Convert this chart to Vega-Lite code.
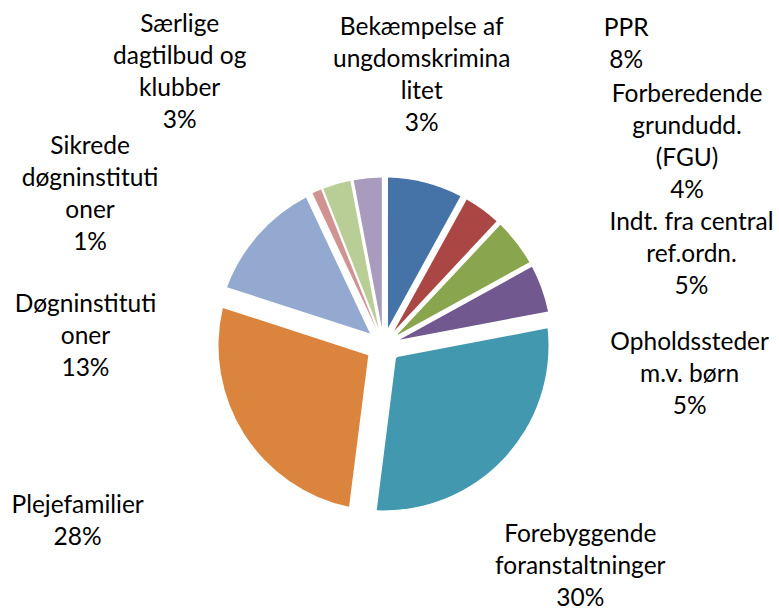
{
  "$schema": "https://vega.github.io/schema/vega-lite/v6.json",
  "width": 767,
  "height": 533,
  "padding": {"left": 0, "top": 79, "right": 12, "bottom": 0},
  "autosize": {"type": "none"},
  "background": "white",
  "config": {"view": {"stroke": null}},
  "data": {
    "values": [
      {"order": 1, "category": "PPR", "value": 8, "label": "PPR\n8%"},
      {"order": 2, "category": "Forberedende grundudd. (FGU)", "value": 4, "label": "Forberedende\ngrundudd.\n(FGU)\n4%"},
      {"order": 3, "category": "Indt. fra central ref.ordn.", "value": 5, "label": "Indt. fra central\nref.ordn.\n5%"},
      {"order": 4, "category": "Opholdssteder m.v. børn", "value": 5, "label": "Opholdssteder\nm.v. børn\n5%"},
      {"order": 5, "category": "Forebyggende foranstaltninger", "value": 30, "label": "Forebyggende\nforanstaltninger\n30%"},
      {"order": 6, "category": "Plejefamilier", "value": 28, "label": "Plejefamilier\n28%"},
      {"order": 7, "category": "Døgninstitutioner", "value": 13, "label": "Døgninstituti\noner\n13%"},
      {"order": 8, "category": "Sikrede døgninstitutioner", "value": 1, "label": "Sikrede\ndøgninstituti\noner\n1%"},
      {"order": 9, "category": "Særlige dagtilbud og klubber", "value": 3, "label": "Særlige\ndagtilbud og\nklubber\n3%"},
      {"order": 10, "category": "Bekæmpelse af ungdomskriminalitet", "value": 3, "label": "Bekæmpelse af\nungdomskrimina\nlitet\n3%"}
    ]
  },
  "transform": [
    {"stack": "value", "groupby": [], "sort": [{"field": "order", "order": "ascending"}], "as": ["v0", "v1"]}
  ],
  "layer": [
    {
      "encoding": {
        "theta": {"field": "v0", "type": "quantitative", "stack": null, "scale": {"domain": [0, 100]}},
        "theta2": {"field": "v1"},
        "color": {
          "field": "category",
          "type": "nominal",
          "legend": null,
          "scale": {
            "domain": ["PPR", "Forberedende grundudd. (FGU)", "Indt. fra central ref.ordn.", "Opholdssteder m.v. børn", "Forebyggende foranstaltninger", "Plejefamilier", "Døgninstitutioner", "Sikrede døgninstitutioner", "Særlige dagtilbud og klubber", "Bekæmpelse af ungdomskriminalitet"],
            "range": ["#4572A7", "#AA4643", "#89A54E", "#71588F", "#4198AF", "#DB843D", "#93A9CF", "#D19392", "#B9CD96", "#A99BBD"]
          }
        }
      },
      "layer": [
        {"transform": [{"filter": {"field": "category", "oneOf": ["Sikrede døgninstitutioner"]}}],
         "mark": {"type": "arc", "outerRadius": 168, "innerRadius": 18, "padAngle": 0.0067}},
        {"transform": [{"filter": {"field": "category", "oneOf": ["Særlige dagtilbud og klubber", "Bekæmpelse af ungdomskriminalitet"]}}],
         "mark": {"type": "arc", "outerRadius": 168, "innerRadius": 18, "padAngle": 0.02}},
        {"transform": [{"filter": {"field": "category", "oneOf": ["Forberedende grundudd. (FGU)", "Indt. fra central ref.ordn.", "Opholdssteder m.v. børn"]}}],
         "mark": {"type": "arc", "outerRadius": 168, "innerRadius": 18, "padAngle": 0.031}},
        {"transform": [{"filter": {"field": "category", "oneOf": ["PPR"]}}],
         "mark": {"type": "arc", "outerRadius": 168, "innerRadius": 18, "padAngle": 0.053}},
        {"transform": [{"filter": {"field": "category", "oneOf": ["Døgninstitutioner"]}}],
         "mark": {"type": "arc", "outerRadius": 167, "innerRadius": 18, "padAngle": 0.085}},
        {"transform": [{"filter": {"field": "category", "oneOf": ["Forebyggende foranstaltninger", "Plejefamilier"]}}],
         "mark": {"type": "arc", "outerRadius": 165, "innerRadius": 18, "padAngle": 0.168}}
      ]
    },
    {
      "transform": [
        {"fold": ["v0", "v1"], "as": ["edge", "pos"]},
        {"aggregate": [{"op": "mean", "field": "pos", "as": "mid"}], "groupby": ["category", "label"]}
      ],
      "encoding": {
        "theta": {"field": "mid", "type": "quantitative", "stack": null, "scale": {"domain": [0, 100]}},
        "text": {"field": "label", "type": "nominal"}
      },
      "layer": [
        {"transform": [{"filter": {"field": "category", "equal": "PPR"}}],
         "mark": {"type": "text", "radius": 200, "dx": 193, "dy": -116, "font": "Lato", "fontSize": 24.5, "lineHeight": 32, "lineBreak": "\n", "align": "center", "baseline": "alphabetic", "color": "#000000"}},
        {"transform": [{"filter": {"field": "category", "equal": "Forberedende grundudd. (FGU)"}}],
         "mark": {"type": "text", "radius": 200, "dx": 186, "dy": -82, "font": "Lato", "fontSize": 24.5, "lineHeight": 32, "lineBreak": "\n", "align": "center", "baseline": "alphabetic", "color": "#000000"}},
        {"transform": [{"filter": {"field": "category", "equal": "Indt. fra central ref.ordn."}}],
         "mark": {"type": "text", "radius": 200, "dx": 150, "dy": 7, "font": "Lato", "fontSize": 24.5, "lineHeight": 32, "lineBreak": "\n", "align": "center", "baseline": "alphabetic", "color": "#000000"}},
        {"transform": [{"filter": {"field": "category", "equal": "Opholdssteder m.v. børn"}}],
         "mark": {"type": "text", "radius": 200, "dx": 118, "dy": 72, "font": "Lato", "fontSize": 24.5, "lineHeight": 32, "lineBreak": "\n", "align": "center", "baseline": "alphabetic", "color": "#000000"}},
        {"transform": [{"filter": {"field": "category", "equal": "Forebyggende foranstaltninger"}}],
         "mark": {"type": "text", "radius": 200, "dx": 51, "dy": 60, "font": "Lato", "fontSize": 24.5, "lineHeight": 32, "lineBreak": "\n", "align": "center", "baseline": "alphabetic", "color": "#000000"}},
        {"transform": [{"filter": {"field": "category", "equal": "Plejefamilier"}}],
         "mark": {"type": "text", "radius": 200, "dx": -137, "dy": 60, "font": "Lato", "fontSize": 24.5, "lineHeight": 32, "lineBreak": "\n", "align": "center", "baseline": "alphabetic", "color": "#000000"}},
        {"transform": [{"filter": {"field": "category", "equal": "Døgninstitutioner"}}],
         "mark": {"type": "text", "radius": 200, "dx": -148, "dy": 99, "font": "Lato", "fontSize": 24.5, "lineHeight": 32, "lineBreak": "\n", "align": "center", "baseline": "alphabetic", "color": "#000000"}},
        {"transform": [{"filter": {"field": "category", "equal": "Sikrede døgninstitutioner"}}],
         "mark": {"type": "text", "radius": 200, "dx": -214, "dy": -8, "font": "Lato", "fontSize": 24.5, "lineHeight": 32, "lineBreak": "\n", "align": "center", "baseline": "alphabetic", "color": "#000000"}},
        {"transform": [{"filter": {"field": "category", "equal": "Særlige dagtilbud og klubber"}}],
         "mark": {"type": "text", "radius": 200, "dx": -148, "dy": -121, "font": "Lato", "fontSize": 24.5, "lineHeight": 32, "lineBreak": "\n", "align": "center", "baseline": "alphabetic", "color": "#000000"}},
        {"transform": [{"filter": {"field": "category", "equal": "Bekæmpelse af ungdomskriminalitet"}}],
         "mark": {"type": "text", "radius": 200, "dx": 57, "dy": -111, "font": "Lato", "fontSize": 24.5, "lineHeight": 32, "lineBreak": "\n", "align": "center", "baseline": "alphabetic", "color": "#000000"}}
      ]
    }
  ]
}
